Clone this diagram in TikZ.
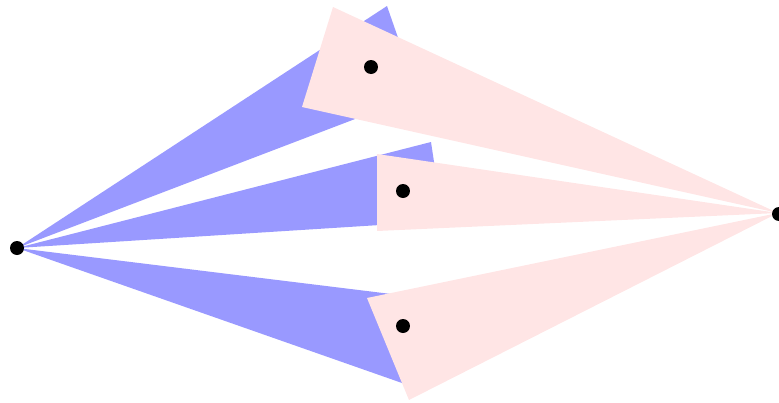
\documentclass[tikz,border=0pt]{standalone}
\begin{document}
\begin{tikzpicture}[x=0.02cm, y=-0.02cm,
    wedgeL/.style={fill=blue!40},
    wedgeR/.style={fill=red!10},
    dot/.style={draw=none, circle, fill=black, minimum size=0.28cm, inner sep=0pt}]
\useasboundingbox (0,0) rectangle (779,403);

% Uc noktalar
\coordinate (L) at (17,248);
\coordinate (R) at (778,213);

% Sol kamalar (mavi)
\coordinate (A1) at (387,6);   \coordinate (B1) at (418,95);
\coordinate (A2) at (431,142); \coordinate (B2) at (443,221);
\coordinate (A3) at (440,300); \coordinate (B3) at (402,383);
\fill[wedgeL] (L) -- (A1) -- (B1) -- cycle;
\fill[wedgeL] (L) -- (A2) -- (B2) -- cycle;
\fill[wedgeL] (L) -- (A3) -- (B3) -- cycle;

% Sag kamalar (pembe)
\coordinate (C1) at (333,7);   \coordinate (D1) at (302,107);
\coordinate (C2) at (377,154); \coordinate (D2) at (377,231);
\coordinate (C3) at (367,298); \coordinate (D3) at (409,400);
\fill[wedgeR] (R) -- (C1) -- (D1) -- cycle;
\fill[wedgeR] (R) -- (C2) -- (D2) -- cycle;
\fill[wedgeR] (R) -- (C3) -- (D3) -- cycle;

% Noktalar
\node[dot] (pL) at (L) {};
\node[dot] (pR) at (779,214) {};
\node[dot] (p1) at (371,67) {};
\node[dot] (p2) at (403,191) {};
\node[dot] (p3) at (403,326) {};

\end{tikzpicture}
\end{document}
